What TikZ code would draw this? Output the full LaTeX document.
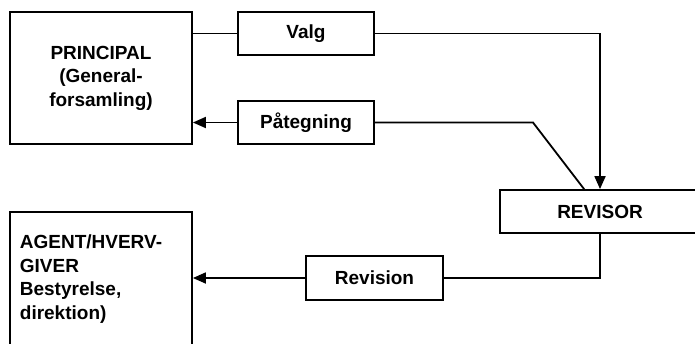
\documentclass[tikz,border=0pt]{standalone}
\usepackage{fontspec}
\setmainfont{Liberation Sans}
\usetikzlibrary{arrows.meta,calc}
\begin{document}
\begin{tikzpicture}[x=1pt,y=-1pt,
  line width=1.8pt,
  every node/.style={font=\bfseries\fontsize{19}{23.5}\selectfont},
  box/.style={draw,rectangle,inner sep=0pt},
  small/.style={box,minimum width=136pt,minimum height=43pt},
  tip/.style={-{Triangle[length=13pt,width=11pt]}}]
\useasboundingbox (0,0) rectangle (695,343);
\clip (0,0) rectangle (695,343);
% main parties
\node[box,minimum width=182pt,minimum height=132pt,align=center] (principal) at (101,78)
  {PRINCIPAL\\(General-\\forsamling)};
\node[box,minimum width=182pt,minimum height=140pt] (agent) at (101,282) {};
\node[align=left,anchor=north west,inner sep=0pt] (agenttxt) at (19,234)
  {AGENT/HVERV-\\GIVER\\Bestyrelse,\\direktion)};
% auditor
\node[box,minimum width=200pt,minimum height=43pt] (revisor) at (600,211.5) {REVISOR};
% relations
\node[small] (valg) at (306,33.5) {Valg};
\node[small] (paategn) at (306,122.5) {Påtegning};
\node[small,minimum width=137pt,minimum height=44pt] (revision) at (374.5,278) {Revision};
% connectors
\draw (principal.east |- valg.west) -- (valg.west);
\draw[tip] (valg.east) -- (valg.east -| revisor.north) -- (revisor.north);
\draw[tip] (paategn.west) -- (paategn.west -| principal.east);
\coordinate (kink) at (533,122.5);
\coordinate (hit) at ($(revisor.north west)+(85,0)$);
\draw (paategn.east) -- (kink) -- (hit);
\draw (revisor.south) -- (revisor.south |- revision.east) -- (revision.east);
\draw[tip] (revision.west) -- (revision.west -| agent.east);
\end{tikzpicture}
\end{document}
